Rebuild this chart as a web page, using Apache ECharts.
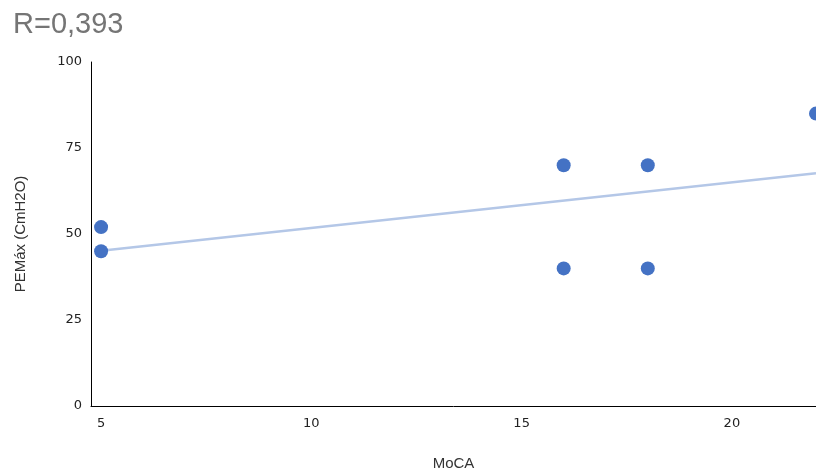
<!DOCTYPE html>
<html>
<head>
<meta charset="utf-8">
<script src="https://cdn.jsdelivr.net/npm/echarts@6/dist/echarts.min.js"></script>
<style>html,body{margin:0;padding:0;background:#fff}#c{width:816px;height:474px}</style>
</head>
<body>
<div id="c"></div>
<script>
const titleText = 'R=0,393';
const xName = 'MoCA';
const yName = 'PEMáx (CmH2O)';
const moca = [5, 5, 16, 16, 18, 18, 22];
const pemax = [52, 45, 70, 40, 70, 40, 85];
const xTicks = [5, 10, 15, 20];
const yTicks = [0, 25, 50, 75, 100];

// least-squares trendline from the data
const n = moca.length;
const mx = moca.reduce((a, b) => a + b, 0) / n;
const my = pemax.reduce((a, b) => a + b, 0) / n;
let sxy = 0, sxx = 0;
for (let i = 0; i < n; i++) { sxy += (moca[i] - mx) * (pemax[i] - my); sxx += (moca[i] - mx) ** 2; }
const slope = sxy / sxx, icpt = my - slope * mx;
const xMinData = Math.min(...moca), xMaxData = Math.max(...moca);
const trend = [[xMinData, icpt + slope * xMinData], [xMaxData, icpt + slope * xMaxData]];

const chart = echarts.init(document.getElementById('c'));
chart.setOption({
  animation: false,
  title: { text: titleText, left: 8, top: 5, textStyle: { fontFamily: 'Liberation Sans', fontSize: 29, fontWeight: 'normal', color: '#757575' } },
  grid: { left: 91, right: 0, top: 62, bottom: 68, containLabel: false, outerBoundsMode: 'none' },
  xAxis: {
    type: 'value', min: 4.76, max: 22,
    name: xName, nameLocation: 'middle', nameGap: 50,
    nameTextStyle: { fontFamily: 'Liberation Sans', fontSize: 15, color: '#333' },
    axisLine: { show: true, lineStyle: { color: '#000', width: 1 } },
    axisTick: { show: false },
    splitLine: { show: false },
    axisLabel: { customValues: xTicks, margin: 11, fontFamily: 'DejaVu Sans', fontSize: 13, color: '#222' }
  },
  yAxis: {
    type: 'value', min: 0, max: 100, interval: 25,
    name: yName, nameLocation: 'middle', nameGap: 63,
    nameTextStyle: { fontFamily: 'Liberation Sans', fontSize: 15, color: '#333' },
    axisLine: { show: true, lineStyle: { color: '#000', width: 1 } },
    axisTick: { show: false },
    splitLine: { show: false },
    axisLabel: { customValues: yTicks, margin: 9, padding: [3, 0, 0, 0], fontFamily: 'DejaVu Sans', fontSize: 13, color: '#222' }
  },
  series: [
    { type: 'line', data: trend, symbol: 'none', lineStyle: { color: '#B4C7E7', width: 2.5 }, z: 1 },
    { type: 'scatter', data: moca.map((x, i) => [x, pemax[i]]), symbolSize: 14, itemStyle: { color: '#4472C4', opacity: 1 }, z: 2, clip: false }
  ]
});
</script>
</body>
</html>
